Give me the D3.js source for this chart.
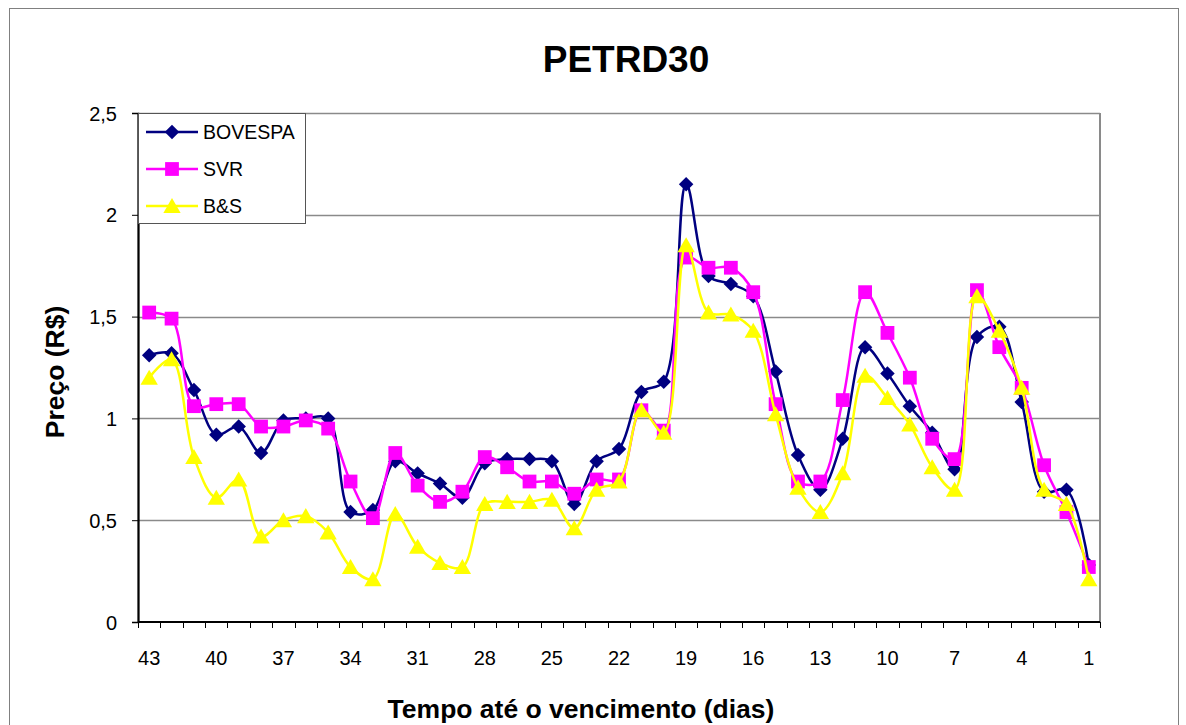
<!DOCTYPE html>
<meta charset="utf-8">
<style>
body {
  margin: 0;
  background: #fff;
  font-family: "Liberation Sans", Arial, sans-serif;
}
.axis text {
  font-size: 20px;
  fill: #000;
}
</style>
<body>
<svg id="chart" width="1186" height="725"></svg>
<script src="https://cdn.jsdelivr.net/npm/d3@7"></script>
<script>

// dias até o vencimento, 43 .. 1
var dias = d3.range(43, 0, -1);

var bovespa = [1.31, 1.32, 1.14, 0.92, 0.96, 0.83, 0.99, 1.00, 1.00, 0.54,
               0.55, 0.79, 0.73, 0.68, 0.61, 0.78, 0.80, 0.80, 0.79, 0.58,
               0.79, 0.85, 1.13, 1.18, 2.15, 1.70, 1.66, 1.60, 1.23, 0.82,
               0.65, 0.90, 1.35, 1.22, 1.06, 0.93, 0.75, 1.40, 1.45, 1.08,
               0.64, 0.65, 0.28];

var svr = [1.52, 1.49, 1.06, 1.07, 1.07, 0.96, 0.96, 0.99, 0.95, 0.69,
           0.51, 0.83, 0.67, 0.59, 0.64, 0.81, 0.76, 0.69, 0.69, 0.63,
           0.70, 0.70, 1.04, 0.94, 1.79, 1.74, 1.74, 1.62, 1.07, 0.69,
           0.69, 1.09, 1.62, 1.42, 1.20, 0.90, 0.80, 1.63, 1.35, 1.15,
           0.77, 0.54, 0.27];

var bs = [1.20, 1.29, 0.81, 0.61, 0.70, 0.42, 0.50, 0.52, 0.44, 0.27,
          0.21, 0.53, 0.37, 0.29, 0.27, 0.58, 0.59, 0.59, 0.60, 0.46,
          0.65, 0.69, 1.04, 0.93, 1.85, 1.52, 1.51, 1.43, 1.02, 0.66,
          0.54, 0.73, 1.21, 1.10, 0.97, 0.76, 0.65, 1.60, 1.43, 1.15,
          0.65, 0.58, 0.21];

var xTickLabels = [43, 40, 37, 34, 31, 28, 25, 22, 19, 16, 13, 10, 7, 4, 1];
var yTicks = [0, 0.5, 1, 1.5, 2, 2.5];

// square turned 45 degrees, like the Excel diamond
var squareDiamond = {
  draw: function(context, size) {
    var r = Math.sqrt(size / 2);
    context.moveTo(0, -r);
    context.lineTo(r, 0);
    context.lineTo(0, r);
    context.lineTo(-r, 0);
    context.closePath();
  }
};

var series = [
  {name: "BOVESPA", values: bovespa, color: "#000080", symbol: squareDiamond, size: 105, dy: 0},
  {name: "SVR", values: svr, color: "#ff00ff", symbol: d3.symbolSquare, size: 190, dy: 0},
  {name: "B&S", values: bs, color: "#ffff00", symbol: d3.symbolTriangle, size: 130, dy: 2}
];

var svg = d3.select("#chart"),
    margin = {top: 113, right: 86, bottom: 103, left: 138},
    width = +svg.attr("width") - margin.left - margin.right,
    height = +svg.attr("height") - margin.top - margin.bottom;

// chart area border
svg.append("rect")
    .attr("x", 9.5)
    .attr("y", 8.5)
    .attr("width", 1169)
    .attr("height", 740)
    .attr("fill", "#fff")
    .attr("stroke", "#808080")
    .attr("stroke-width", 1);

var x = d3.scaleBand().domain(dias).range([0, width]).padding(0),
    y = d3.scaleLinear().domain([0, 2.5]).range([height, 0]);

var cx = function(i) { return x(dias[i]) + x.bandwidth() / 2; };

var g = svg.append("g")
    .attr("transform", "translate(" + margin.left + "," + margin.top + ")");

// gridlines
g.append("g")
    .selectAll("line")
    .data(yTicks.slice(1))
    .enter().append("line")
      .attr("x1", 0)
      .attr("x2", width)
      .attr("y1", function(d) { return Math.round(y(d)) + 0.5; })
      .attr("y2", function(d) { return Math.round(y(d)) + 0.5; })
      .attr("stroke", "#8a8a8a")
      .attr("stroke-width", 1.5);

// right border of plot area
g.append("line")
    .attr("x1", width).attr("x2", width)
    .attr("y1", 0).attr("y2", height)
    .attr("stroke", "#8a8a8a")
    .attr("stroke-width", 2);

// y axis
var yAxis = g.append("g")
    .attr("class", "axis")
    .call(d3.axisLeft(y)
      .tickValues(yTicks)
      .tickSize(6)
      .tickPadding(15)
      .tickFormat(function(d) { return String(d).replace(".", ","); }));
yAxis.select(".domain").attr("stroke", "#000").attr("stroke-width", 1.5);
yAxis.selectAll(".tick line").attr("stroke", "#000");
yAxis.selectAll(".tick text").attr("dy", "0.35em");

// x axis: ticks at category boundaries, labels every 3rd
var xAxis = g.append("g")
    .attr("class", "axis")
    .attr("transform", "translate(0," + height + ")");
xAxis.append("line")
    .attr("x1", 0).attr("x2", width)
    .attr("stroke", "#000")
    .attr("stroke-width", 2);
xAxis.selectAll(".tk")
    .data(dias.concat([0]))
    .enter().append("line")
      .attr("class", "tk")
      .attr("x1", function(d, i) { return Math.round(i * x.bandwidth()) + 0.5; })
      .attr("x2", function(d, i) { return Math.round(i * x.bandwidth()) + 0.5; })
      .attr("y1", 0)
      .attr("y2", 6)
      .attr("stroke", "#000");
xAxis.selectAll(".lbl")
    .data(xTickLabels)
    .enter().append("text")
      .attr("class", "lbl")
      .attr("x", function(d) { return x(d) + x.bandwidth() / 2; })
      .attr("y", 43)
      .attr("text-anchor", "middle")
      .text(function(d) { return d; });

// left axis line
g.append("line")
    .attr("x1", 0.5).attr("x2", 0.5)
    .attr("y1", 0).attr("y2", height)
    .attr("stroke", "#000")
    .attr("stroke-width", 2);

var line = d3.line()
    .curve(d3.curveCatmullRom.alpha(0.5))
    .x(function(d, i) { return cx(i); })
    .y(function(d) { return y(d); });

var layer = g.selectAll(".serie")
    .data(series)
    .enter().append("g")
      .attr("class", "serie");

layer.append("path")
    .attr("fill", "none")
    .attr("stroke", function(d) { return d.color; })
    .attr("stroke-width", 2.5)
    .attr("d", function(d) { return line(d.values); });

layer.each(function(s) {
  d3.select(this).selectAll("path.mk")
      .data(s.values)
      .enter().append("path")
        .attr("class", "mk")
        .attr("transform", function(d, i) {
          return "translate(" + cx(i) + "," + (y(d) + s.dy) + ")";
        })
        .attr("d", d3.symbol().type(s.symbol).size(s.size))
        .attr("fill", s.color);
});

// legend
var legend = g.append("g").attr("class", "legend");
legend.append("rect")
    .attr("x", 0.5)
    .attr("y", 0.5)
    .attr("width", 167)
    .attr("height", 110)
    .attr("fill", "#fff")
    .attr("stroke", "#555");

var item = legend.selectAll(".item")
    .data(series)
    .enter().append("g")
      .attr("class", "item")
      .attr("transform", function(d, i) { return "translate(0," + (19 + i * 37) + ")"; });
item.append("line")
    .attr("x1", 8).attr("x2", 60)
    .attr("stroke", function(d) { return d.color; })
    .attr("stroke-width", 2.5);
item.append("path")
    .attr("transform", function(d) { return "translate(34," + d.dy + ")"; })
    .attr("d", function(d) { return d3.symbol().type(d.symbol).size(d.size)(); })
    .attr("fill", function(d) { return d.color; });
item.append("text")
    .attr("x", 65)
    .attr("y", 7)
    .style("font-size", "19.5px")
    .text(function(d) { return d.name; });

// titles
svg.append("text")
    .attr("x", 626)
    .attr("y", 72)
    .attr("text-anchor", "middle")
    .style("font-size", "37px")
    .style("font-weight", "bold")
    .text("PETRD30");

svg.append("text")
    .attr("transform", "translate(64,372) rotate(-90)")
    .attr("text-anchor", "middle")
    .style("font-size", "26.5px")
    .style("font-weight", "bold")
    .text("Preço (R$)");

svg.append("text")
    .attr("x", 581)
    .attr("y", 718)
    .attr("text-anchor", "middle")
    .style("font-size", "26.5px")
    .style("font-weight", "bold")
    .text("Tempo até o vencimento (dias)");

</script>
</body>
